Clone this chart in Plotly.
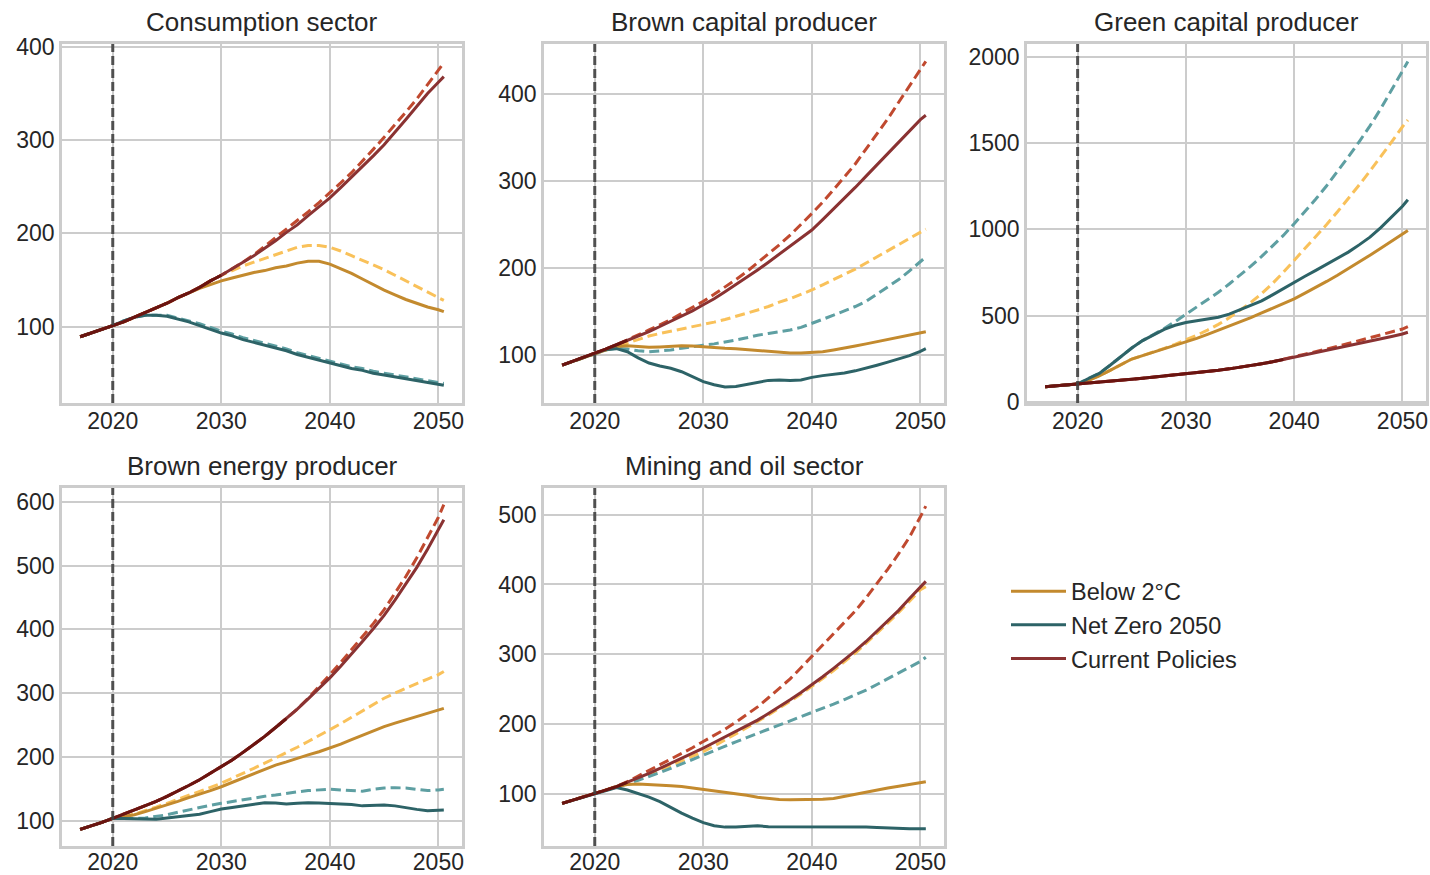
import plotly.graph_objects as go

# ---------------- data ----------------
YEARS = list(range(2017, 2051)) + [2050.5]

TITLES = ["Consumption sector", "Brown capital producer", "Green capital producer",
          "Brown energy producer", "Mining and oil sector"]
SCENARIOS = ["Below 2°C", "Net Zero 2050", "Current Policies"]

# Consumption sector
CONS_B2 = [89, 93, 97,
           101, 105, 110, 115, 120, 125, 131, 136, 141, 145,
           149, 152, 155, 158, 160, 163, 165, 168, 170, 170,
           167, 162, 157, 151, 145, 139, 134, 129, 125, 121,
           118, 116]
CONS_NZ = [89, 93, 97,
           101, 106, 110, 112, 112, 111, 108, 105, 101, 97,
           93, 90, 86, 83, 80, 77, 74, 70, 67, 64,
           61, 58, 55, 53, 50, 48, 46, 44, 42, 40,
           38, 37]
CONS_CP = [89, 93, 97,
           101, 105, 110, 115, 120, 125, 131, 136, 142, 149,
           155, 162, 169, 176, 184, 192, 201, 209, 219, 228,
           238, 249, 260, 271, 283, 295, 308, 322, 336, 350,
           362, 368]
CONS_B2_ALT = [89, 93, 97,
               101, 105, 110, 115, 120, 125, 131, 136, 142, 149,
               155, 160, 165, 169, 173, 177, 181, 185, 187, 187,
               185, 181, 176, 171, 166, 161, 155, 149, 143, 137,
               131, 128]
CONS_NZ_ALT = [89, 93, 97,
               101, 106, 110, 112, 112, 112, 109, 106, 103, 99,
               95, 92, 88, 85, 82, 79, 76, 72, 69, 66,
               63, 60, 57, 55, 52, 50, 48, 46, 44, 42,
               40, 39]
CONS_CP_ALT = [89, 93, 97,
               101, 105, 110, 115, 120, 125, 131, 136, 142, 149,
               155, 162, 169, 177, 186, 195, 204, 213, 223, 233,
               243, 254, 265, 277, 290, 303, 316, 330, 344, 359,
               375, 383]

# Brown capital producer
BC_B2 = [88.5, 93, 97.5,
         102, 106, 110, 111, 110, 109, 109.5, 110.5, 111, 110.5,
         109.5, 109, 108, 107.5, 106.5, 105.5, 104.5, 103, 102.5, 102.5,
         103, 104, 106, 108, 110.5, 113, 115.5, 118, 120.5, 123,
         125.5, 127]
BC_NZ = [88.5, 93, 97.5,
         102, 106.5, 107.5, 104, 97, 91, 87.5, 85, 81, 75,
         69.5, 66, 63.5, 64, 66.5, 69, 71, 71.5, 71, 71.5,
         74.5, 76.5, 78, 79.5, 82, 85, 88.5, 92, 95.5, 99.5,
         104.5, 107.5]
BC_CP = [88.5, 93, 97.5,
         102, 107, 112, 117, 122, 127, 133, 139, 145, 151,
         158, 165, 173, 181, 189, 198, 207, 216, 225, 234,
         244, 256, 268, 280, 293, 306, 319, 332, 345, 358,
         371, 376]
BC_B2_ALT = [88.5, 93, 97.5,
             102, 106, 110, 114, 118, 122, 125, 127.5, 130, 132.5,
             135, 138, 141, 144.5, 148, 152, 156, 161, 165, 170,
             175, 181, 187, 193, 199, 206, 213, 220, 227, 234,
             241, 245]
BC_NZ_ALT = [88.5, 93, 97.5,
             102, 106, 108, 107, 105, 104, 105, 106, 108, 110,
             111.5, 113, 115, 117.5, 120, 123, 125, 127, 129, 132,
             136.5, 141, 146, 151, 156, 162, 170, 178, 187, 197,
             208, 213]
BC_CP_ALT = [88.5, 93, 97.5,
             102, 107, 112, 117.5, 123, 129, 135, 141, 148, 155,
             162, 170, 178, 187, 196, 206, 216, 227, 238, 250,
             263, 276, 290, 305, 320, 337, 354, 372, 391, 410,
             429, 438]

# Green capital producer
GC_B2 = [87, 92, 97,
         103, 125, 151, 182, 215, 248, 268, 288, 307, 326,
         345, 368, 391, 415, 438, 461, 488, 515, 542, 569,
         597, 630, 663, 698, 734, 771, 810, 850, 890, 932,
         975, 994]
GC_NZ = [87, 92, 97,
         103, 135, 165, 212, 262, 312, 355, 390, 420, 444,
         460, 470, 479, 490, 508, 535, 560, 585, 620, 657,
         694, 728, 762, 797, 832, 868, 910, 955, 1010, 1070,
         1134, 1172]
GC_CP = [87, 92, 97,
         103, 108, 113, 118, 125, 131, 137, 143, 149, 155,
         161, 168, 175, 183, 191, 200, 210, 221, 232, 245,
         258, 271, 284, 298, 312, 326, 339, 352, 365, 379,
         393, 403]
GC_B2_ALT = [87, 92, 97,
             103, 125, 151, 182, 215, 248, 268, 288, 310, 333,
             358, 386, 416, 449, 487, 529, 576, 628, 686, 751,
             820, 888, 957, 1028, 1102, 1178, 1257, 1338, 1421, 1507,
             1595, 1634]
GC_NZ_ALT = [87, 92, 97,
             103, 135, 165, 212, 262, 312, 355, 390, 425, 465,
             508, 548, 590, 635, 683, 733, 787, 843, 902, 965,
             1033, 1103, 1176, 1253, 1335, 1420, 1508, 1600, 1700, 1808,
             1924, 1973]
GC_CP_ALT = [87, 92, 97,
             103, 108, 113, 118, 125, 131, 137, 143, 149, 155,
             161, 168, 175, 183, 191, 200, 210, 221, 232, 245,
             262, 276, 290, 305, 321, 338, 354, 370, 387, 404,
             422, 436]

# Brown energy producer
BE_B2 = [86, 91, 97,
         103.5, 106, 109, 114, 119, 124.5, 130, 136, 141, 147,
         153, 160, 167, 174, 180, 187, 192, 198, 203, 208,
         213.5, 220, 227, 234, 241, 247.5, 253, 258, 263, 268,
         273, 276]
BE_NZ = [86, 91, 97,
         103.5, 103, 102.5, 102, 102, 104, 106, 108, 110, 114,
         118, 120.5, 123, 125.5, 128, 127.5, 126, 127, 128, 127.5,
         127, 126, 125, 123, 124, 124.5, 123, 120, 117.5, 115.5,
         115.5, 116.5]
BE_CP = [86, 91, 97,
         103.5, 110, 116, 123, 130, 138, 146, 155, 164, 174,
         184, 195, 207, 219, 232, 246, 260, 275, 291, 307,
         324, 342, 361, 381, 401, 422, 446, 471, 497, 526,
         556, 572]
BE_B2_ALT = [86, 91, 97,
             103.5, 106, 110, 115, 121, 127, 133, 139, 145, 152,
             158.5, 166, 174, 182, 190, 198, 207, 215, 224, 233,
             242, 252, 262, 272, 282, 292, 300, 308, 315, 322,
             329, 334]
BE_NZ_ALT = [86, 91, 97,
             103.5, 103, 103.5, 104, 106, 109, 113, 117, 121, 124,
             127, 130, 133, 135, 138, 140, 143, 145, 147, 148.5,
             149, 148, 147, 146, 149, 151, 151.5, 151, 149, 147,
             148, 149]
BE_CP_ALT = [86, 91, 97,
             103.5, 110, 116, 123, 130, 138, 146, 155, 164, 174,
             184, 195, 207, 219, 232, 246, 260, 275, 292, 310,
             329, 348, 368, 388, 409, 431, 456, 483, 512, 543,
             576, 596]

# Mining and oil sector
MO_B2 = [87, 91.5, 96,
         101.5, 106, 111, 114, 114.5, 114, 113, 112, 111, 109,
         107, 105, 103, 101.5, 98.5, 95.7, 94, 92.5, 92, 92,
         92, 93, 94, 97, 100.5, 104, 106.5, 109, 111.5, 114,
         117, 118]
MO_NZ = [87, 91.5, 96,
         101.5, 106, 109.5, 106, 101.5, 96, 89.5, 81, 73, 66,
         59.5, 55, 53, 53, 54, 55, 53.5, 53.5, 54, 54,
         54, 53.5, 53, 53, 53, 53, 52.5, 51.5, 51, 50.5,
         50.5, 50.5]
MO_CP = [87, 91.5, 96,
         101.5, 106, 111, 117, 123, 130, 137, 144, 151, 158.5,
         166, 174, 182, 190, 198, 206, 215.5, 225, 235, 245.5,
         256.5, 268, 280, 292, 305, 318.5, 333, 348, 363, 380,
         397, 404.5]
MO_B2_ALT = [87, 91.5, 96,
             101.5, 106, 111, 116.5, 122, 128, 134, 141, 147.5, 154,
             161, 169, 177.5, 186, 195, 204, 213.5, 223, 233, 243.5,
             254, 265.5, 277, 289, 302, 316, 330, 345, 360, 376,
             392.5, 397]
MO_NZ_ALT = [87, 91.5, 96,
             101.5, 106, 110.5, 115, 120, 125, 131, 137, 143.5, 150,
             156, 162.5, 169, 175, 181, 187, 193, 199, 204.5, 210,
             216, 222.5, 229, 235.5, 242, 249, 257, 265, 273, 281.5,
             290, 296]
MO_CP_ALT = [87, 91.5, 96,
             101.5, 106, 111.5, 118, 126, 134, 142, 150, 158, 166.5,
             175.5, 184, 193, 203, 214, 225, 238, 251, 265, 281,
             297, 313, 329, 345, 362, 381, 401, 422, 444, 468,
             497, 512]

# year until which the two Current Policies paths coincide (drawn darker)
OVERLAP_UNTIL = [2030, 2023, 2039, 2036, 2023]
POLICY_YEAR = 2020

Y_TICKS = [[100, 200, 300, 400], [100, 200, 300, 400], [0, 500, 1000, 1500, 2000],
           [100, 200, 300, 400, 500, 600], [100, 200, 300, 400, 500]]
X_TICKS = [2020, 2030, 2040, 2050]

PANELS = [
    (CONS_B2, CONS_NZ, CONS_CP, CONS_B2_ALT, CONS_NZ_ALT, CONS_CP_ALT),
    (BC_B2, BC_NZ, BC_CP, BC_B2_ALT, BC_NZ_ALT, BC_CP_ALT),
    (GC_B2, GC_NZ, GC_CP, GC_B2_ALT, GC_NZ_ALT, GC_CP_ALT),
    (BE_B2, BE_NZ, BE_CP, BE_B2_ALT, BE_NZ_ALT, BE_CP_ALT),
    (MO_B2, MO_NZ, MO_CP, MO_B2_ALT, MO_NZ_ALT, MO_CP_ALT),
]

# ---------------- style ----------------
W, H = 1430, 875
SOLID_COLORS = ["#C38A2E", "#2D6367", "#8A3232"]
DASH_COLORS = ["#F9C15A", "#5E9FA2", "#C0492F"]
OVERLAP_COLOR = "#6A1410"
FONT = "Liberation Sans, Arial, sans-serif"
TEXT = "#262626"
GRID = "#CCCCCC"

# panel boxes in pixels (left, right, top, bottom)
COLS = [(62, 462), (544, 944), (1027, 1426)]
ROWS = [(44, 403), (488, 846)]
X_LABEL_STANDOFF = [-4, -6]
Y_RANGES = [[18, 403], [45, 458], [-7, 2075], [60, 622], [26, 538]]
X_RANGE = [2015.325, 2052.175]


def px(xs):
    return xs / W


def py(ys):
    return 1 - ys / H


fig = go.Figure()
layout = dict(
    template="none",
    width=W, height=H, margin=dict(l=0, r=0, t=0, b=0, pad=0, autoexpand=False),
    paper_bgcolor="white", plot_bgcolor="white",
    font=dict(family=FONT, color=TEXT, size=23),
    showlegend=True,
    legend=dict(x=px(1006), y=py(625), xanchor="left", yanchor="middle",
                font=dict(size=23.5, color=TEXT, family=FONT), bgcolor="rgba(0,0,0,0)",
                borderwidth=0, itemwidth=55, tracegroupgap=0),
)
annotations = []
shapes = []

for i, series in enumerate(PANELS):
    r, c = divmod(i, 3)
    n = i + 1
    xa = "xaxis" if n == 1 else f"xaxis{n}"
    ya = "yaxis" if n == 1 else f"yaxis{n}"
    xr = "x" if n == 1 else f"x{n}"
    yr = "y" if n == 1 else f"y{n}"
    (l, rr), (t, b) = COLS[c], ROWS[r]
    b2, nz, cp, b2a, nza, cpa = series

    # dashed alternative paths
    for k, ys in enumerate([b2a, nza, cpa]):
        fig.add_trace(go.Scatter(x=YEARS, y=ys, mode="lines", xaxis=xr, yaxis=yr,
                                 line=dict(color=DASH_COLORS[k], width=3, dash="10px,5px"),
                                 showlegend=False, hoverinfo="skip"))
    # solid main paths
    for k, ys in enumerate([b2, nz, cp]):
        fig.add_trace(go.Scatter(x=YEARS, y=ys, mode="lines", xaxis=xr, yaxis=yr,
                                 name=SCENARIOS[k], legendgroup=SCENARIOS[k],
                                 line=dict(color=SOLID_COLORS[k], width=3),
                                 showlegend=(i == 0)))
    # coincident part of the current-policies paths
    xs = [yv for yv in YEARS if yv <= OVERLAP_UNTIL[i]]
    fig.add_trace(go.Scatter(x=xs, y=cp[:len(xs)], mode="lines", xaxis=xr, yaxis=yr,
                             line=dict(color=OVERLAP_COLOR, width=3),
                             showlegend=False, hoverinfo="skip"))

    axis_common = dict(ticks="", showgrid=True, gridcolor=GRID, gridwidth=1.5,
                       showline=True, linecolor=GRID, linewidth=2.5, mirror=True,
                       zeroline=False, automargin=False,
                       tickfont=dict(size=23, color=TEXT, family=FONT))
    layout[xa] = dict(domain=[px(l), px(rr)], anchor=yr, range=X_RANGE,
                      tickvals=X_TICKS, ticklabelstandoff=X_LABEL_STANDOFF[r], **axis_common)
    layout[ya] = dict(domain=[py(b), py(t)], anchor=xr, range=Y_RANGES[i],
                      tickvals=Y_TICKS[i], ticklabelstandoff=0, **axis_common)
    shapes.append(dict(type="line", xref=xr, yref=f"{yr} domain", x0=POLICY_YEAR, x1=POLICY_YEAR,
                       y0=0, y1=1, line=dict(color="rgba(65,65,65,0.9)", width=3, dash="9px,4px"),
                       layer="above"))
    annotations.append(dict(text=TITLES[i], xref="paper", yref="paper",
                            x=px((l + rr) / 2), y=py(t - 22),
                            xanchor="center", yanchor="middle", showarrow=False,
                            font=dict(size=26, color=TEXT, family=FONT)))

layout["annotations"] = annotations
layout["shapes"] = shapes
fig.update_layout(**layout)
# remove the browser's default body margin so the figure fills the window exactly
fig.write_html("out.html",
               config={"displayModeBar": False},
               post_script="document.body.style.margin='0';document.body.style.overflow='hidden';")
